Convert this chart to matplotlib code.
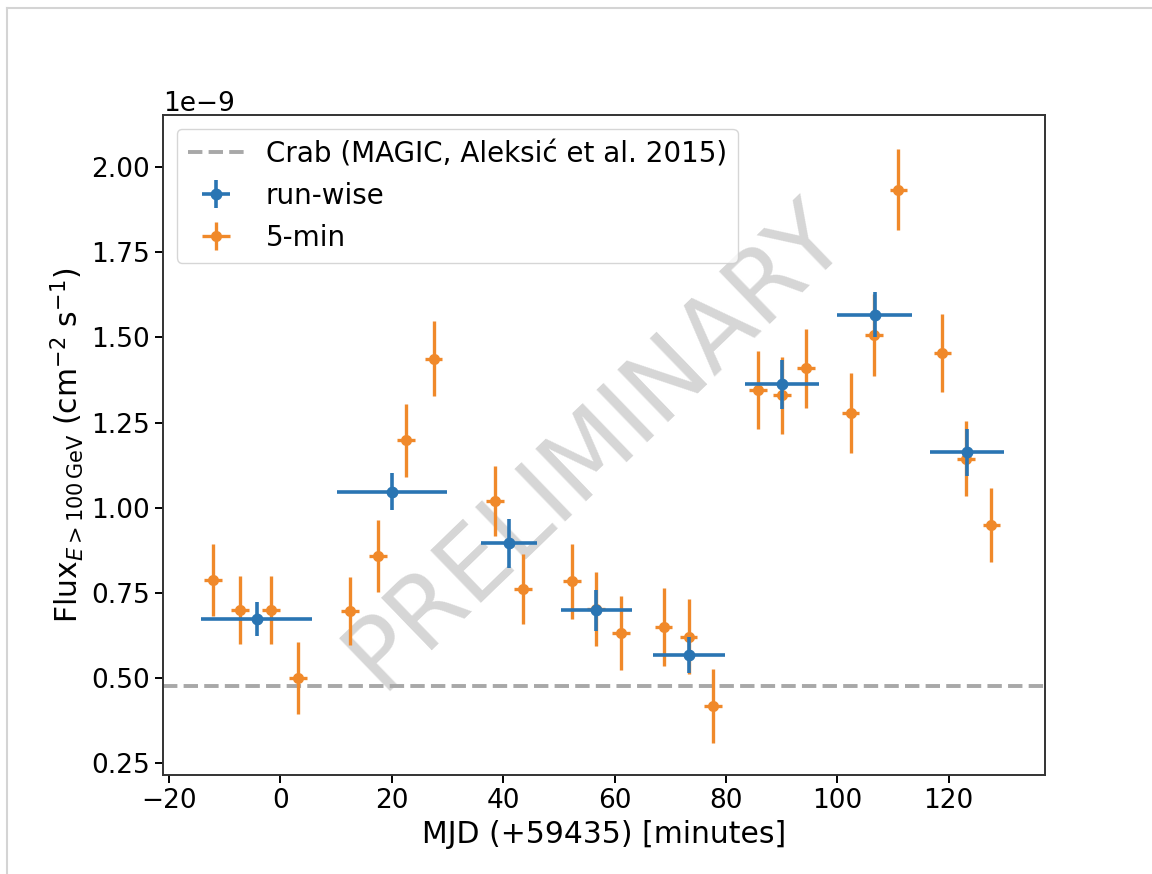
import matplotlib
matplotlib.use("Agg")
import matplotlib.pyplot as plt
from matplotlib.lines import Line2D

# run-wise light curve (flux in 1e-9 cm^-2 s^-1, time in minutes after MJD 59435)
run_t = [-4.3, 20.1, 41.1, 56.7, 73.4, 90.1, 106.7, 123.3]
run_dt = [9.9, 9.9, 5.0, 6.4, 6.5, 6.6, 6.7, 6.7]
run_flux = [0.673, 1.047, 0.895, 0.699, 0.567, 1.362, 1.567, 1.162]
run_err = [0.050, 0.055, 0.072, 0.060, 0.054, 0.073, 0.066, 0.068]

# 5-min light curve
min5_t = [-12.1, -7.2, -1.7, 3.2, 12.5, 17.5, 22.5, 27.5, 38.6, 43.5, 52.4,
          56.7, 61.1, 68.8, 73.3, 77.7, 85.8, 90.1, 94.4, 102.4, 106.6,
          111.0, 118.9, 123.2, 127.7]
min5_flux = [0.787, 0.699, 0.699, 0.499, 0.697, 0.858, 1.198, 1.438, 1.019,
             0.762, 0.784, 0.703, 0.632, 0.650, 0.621, 0.417, 1.345, 1.330,
             1.409, 1.278, 1.507, 1.934, 1.455, 1.144, 0.949]
min5_err = [0.105, 0.100, 0.100, 0.106, 0.100, 0.105, 0.107, 0.110, 0.103,
            0.103, 0.110, 0.108, 0.108, 0.115, 0.110, 0.108, 0.115, 0.113,
            0.115, 0.117, 0.120, 0.120, 0.115, 0.110, 0.110]
min5_dt = 1.6

crab_flux = 0.475

scale = 1e-9
fs_tick = 19
fs_label = 21.5
fs_leg = 20

fig = plt.figure(figsize=(11.52, 8.74), dpi=100)
ax = fig.add_axes([0.1415, 0.1133, 0.7655, 0.7551])

# screenshot frame
fig.add_artist(Line2D([0.006, 0.006], [0.0, 0.991], color="#d4d4d4", lw=1.5))
fig.add_artist(Line2D([0.006, 1.0], [0.991, 0.991], color="#d4d4d4", lw=1.5))

ax.text(0.49, 0.5, "PRELIMINARY", transform=ax.transAxes, fontsize=71,
        color="#d6d6d6", rotation=44, ha="center", va="center", zorder=0)

crab = ax.axhline(crab_flux * scale, color="#a8a8a8", ls="--", lw=2.8, zorder=1)

m5 = ax.errorbar(min5_t, [f * scale for f in min5_flux],
                 xerr=min5_dt, yerr=[e * scale for e in min5_err],
                 fmt="o", color="#f0892a", ms=7, elinewidth=2.4, zorder=2)
rw = ax.errorbar(run_t, [f * scale for f in run_flux],
                 xerr=run_dt, yerr=[e * scale for e in run_err],
                 fmt="o", color="#2a75b3", ms=7.5, elinewidth=2.6, zorder=3)

ax.set_xlim(-21.1, 137.3)
ax.set_ylim(0.215e-9, 2.153e-9)
ax.set_yticks([t * scale for t in [0.25, 0.5, 0.75, 1.0, 1.25, 1.5, 1.75, 2.0]])
ax.set_xticks([-20, 0, 20, 40, 60, 80, 100, 120])

ax.set_xlabel("MJD (+59435) [minutes]", fontsize=fs_label)
ax.set_ylabel(r"Flux$_{E > 100\,\mathrm{GeV}}$ (cm$^{-2}$ s$^{-1}$)", fontsize=fs_label)
ax.tick_params(labelsize=fs_tick, width=1.4, length=6)
ax.yaxis.get_offset_text().set_fontsize(fs_tick)
for s in ax.spines.values():
    s.set_linewidth(1.4)
    s.set_color("#333333")

ax.legend([crab, rw, m5], ["Crab (MAGIC, Aleksić et al. 2015)", "run-wise", "5-min"],
          loc="upper left", fontsize=fs_leg, framealpha=0.8)

fig.savefig("out.png", dpi=100)
